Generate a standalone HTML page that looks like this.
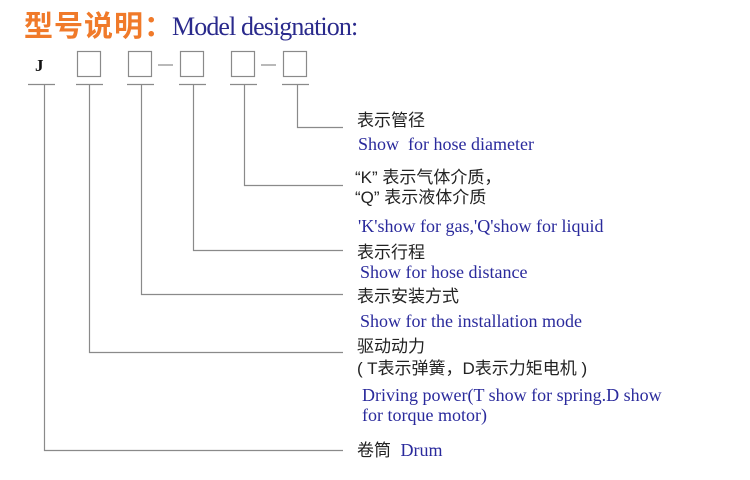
<!DOCTYPE html>
<html><head><meta charset="utf-8"><style>
body{margin:0;background:#fff;}
.w{position:relative;width:750px;height:480px;overflow:hidden;font-family:"Liberation Serif","Noto Sans CJK SC",serif;}
.t{position:absolute;white-space:nowrap;line-height:26px;}
.cn{font-family:"Liberation Sans","Noto Sans CJK SC",sans-serif;font-size:17px;color:#222;}
.en{font-family:"Liberation Serif",serif;font-size:18px;color:#2a2a9c;}
</style></head><body><div class="w">
<svg width="750" height="480" style="position:absolute;left:0;top:0">
<g fill="none" stroke="#8a8a8a" stroke-width="1.2">
<rect x="77.5" y="51.5" width="23" height="25"/>
<rect x="128.5" y="51.5" width="23" height="25"/>
<rect x="180.5" y="51.5" width="23" height="25"/>
<rect x="231.5" y="51.5" width="23" height="25"/>
<rect x="283.5" y="51.5" width="23" height="25"/>
<line x1="158" y1="65" x2="173" y2="65"/>
<line x1="261" y1="65" x2="276" y2="65"/>
<line x1="28" y1="84.5" x2="55" y2="84.5"/>
<line x1="76" y1="84.5" x2="103" y2="84.5"/>
<line x1="127" y1="84.5" x2="154" y2="84.5"/>
<line x1="179" y1="84.5" x2="206" y2="84.5"/>
<line x1="230" y1="84.5" x2="257" y2="84.5"/>
<line x1="282" y1="84.5" x2="309" y2="84.5"/>
<polyline points="297.5,84 297.5,127.5 343,127.5"/>
<polyline points="244.5,84 244.5,185.5 343,185.5"/>
<polyline points="193.5,84 193.5,250.5 343,250.5"/>
<polyline points="141.5,84 141.5,294.5 343,294.5"/>
<polyline points="89.5,84 89.5,352.5 343,352.5"/>
<polyline points="44.5,84 44.5,450.5 343,450.5"/>
</g></svg>
<div class="t" style="left:24px;top:10px;font-family:'Liberation Sans','Noto Sans CJK SC',sans-serif;font-size:29px;line-height:34px;color:#f07a2a;font-weight:bold;letter-spacing:1px">型号说明：</div>
<div class="t" style="left:172px;top:12px;font-size:26px;line-height:30px;color:#2a2a8c;letter-spacing:-0.9px">Model designation:</div>
<div class="t" style="left:35px;top:53px;font-size:17px;font-weight:bold;color:#111">J</div>
<div class="t cn" style="left:357px;top:108px">表示管径</div>
<div class="t en" style="left:358px;top:131px">Show&nbsp; for hose diameter</div>
<div class="t cn" style="left:355px;top:165px">“K” 表示气体介质，</div>
<div class="t cn" style="left:355px;top:185px">“Q” 表示液体介质</div>
<div class="t en" style="left:358px;top:213px">'K'show for gas,'Q'show for liquid</div>
<div class="t cn" style="left:357px;top:240px">表示行程</div>
<div class="t en" style="left:360px;top:259px">Show for hose distance</div>
<div class="t cn" style="left:357px;top:284px">表示安装方式</div>
<div class="t en" style="left:360px;top:308px">Show for the installation mode</div>
<div class="t cn" style="left:357px;top:334px">驱动动力</div>
<div class="t cn" style="left:357px;top:356px">( T表示弹簧，D表示力矩电机 )</div>
<div class="t en" style="left:362px;top:382px">Driving power(T show for spring.D show</div>
<div class="t en" style="left:362px;top:402px">for torque motor)</div>
<div class="t cn" style="left:357px;top:437px">卷筒&nbsp; <span class="en">Drum</span></div>
</div></body></html>
